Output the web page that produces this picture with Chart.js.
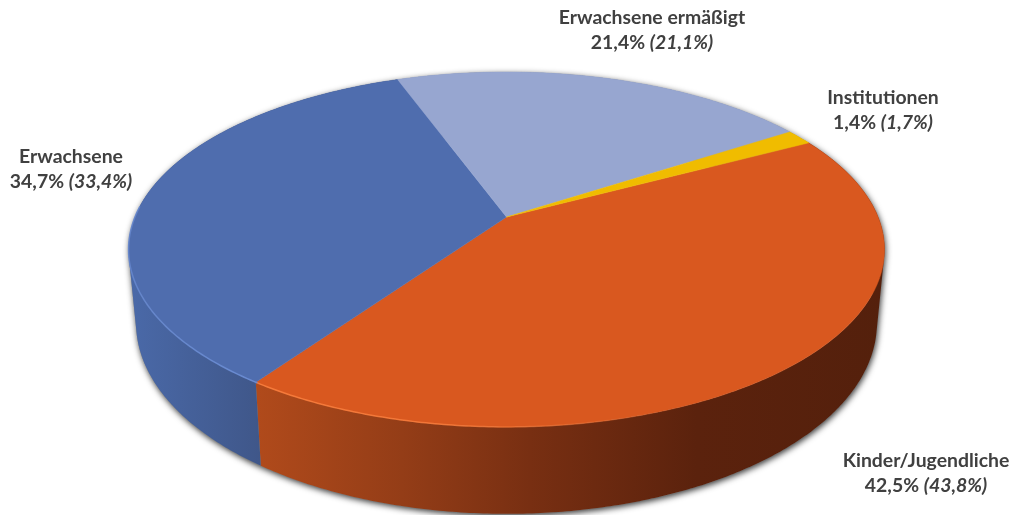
<!DOCTYPE html>
<html>
<head>
<meta charset="utf-8">
<title>Besucher</title>
<script src="https://cdn.jsdelivr.net/npm/chart.js@4"></script>
<style>
  html, body { margin: 0; padding: 0; background: #fff; overflow: hidden; }
  canvas { display: block; }
</style>
</head>
<body>
<canvas id="pieChart" width="1016" height="515"></canvas>
<script>
// Values
const categories = ['Kinder/Jugendliche', 'Erwachsene', 'Erwachsene ermäßigt', 'Institutionen'];
const shares = [42.5, 34.7, 21.4, 1.4];
const priorShares = [43.8, 33.4, 21.1, 1.7];
const topColors = ['#d9581f', '#4f6dae', '#97a6d0', '#f0bc00'];

// Label anchors (centre x, first baseline y)
const labelPos = [[926, 467], [71, 163], [652, 24], [883, 104]];

// Perspective of the disc: circle point (u, v) to screen
const cx = 506.5, persp = -0.183, radiusX = 371.6, scaleY = 131.8, apexY = 217;
const wallDepth = 71, wallNarrow = 0.98;

function top3d(u, v) {
  const w = 1 + persp * v;
  return { x: cx + radiusX * u / w, y: (scaleY * v + apexY) / w };
}
function bottom3d(u, v) {
  const p = top3d(u, v), w = 1 + persp * v;
  return { x: cx + (p.x - cx) * wallNarrow, y: p.y + wallDepth / w };
}
function rim(fn, a0, a1) {
  const pts = [], n = Math.max(2, Math.ceil(Math.abs(a1 - a0) / 0.01));
  for (let i = 0; i <= n; i++) {
    const a = a0 + (a1 - a0) * i / n;
    pts.push(fn(Math.cos(a), Math.sin(a)));
  }
  return pts;
}
function trace(ctx, pts) {
  pts.forEach((p, i) => i ? ctx.lineTo(p.x, p.y) : ctx.moveTo(p.x, p.y));
  ctx.closePath();
}
// wall strip as one path of quads, all wound the same way so they add up
function sweep(ctx, a0, a1) {
  const t = rim(top3d, a0, a1), b = rim(bottom3d, a0, a1);
  for (let i = 0; i < t.length - 1; i++) {
    const q = [t[i], t[i + 1], b[i + 1], b[i]];
    let area = 0;
    q.forEach((p, j) => {
      const r = q[(j + 1) % 4];
      area += p.x * r.y - r.x * p.y;
    });
    trace(ctx, area < 0 ? q.reverse() : q);
  }
}
function wallFill(ctx, i) {
  const g = ctx.createLinearGradient(130, 0, 885, 0);
  if (i === 0) {
    g.addColorStop(0.17, '#b04a1b');
    g.addColorStop(0.36, '#943d17');
    g.addColorStop(0.53, '#782f12');
    g.addColorStop(0.75, '#5b220d');
    g.addColorStop(1, '#54200c');
  } else if (i === 1) {
    g.addColorStop(0, '#4a69a8');
    g.addColorStop(0.18, '#3f5688');
  } else {
    return topColors[i];
  }
  return g;
}

const pie3d = {
  id: 'pie3d',
  beforeDatasetDraw(chart, args) {
    const ctx = chart.ctx;
    const arcs = chart.getDatasetMeta(args.index).data;
    ctx.save();

    // soft shadow under the whole body
    ctx.save();
    ctx.shadowColor = 'rgba(0,0,0,0.8)';
    ctx.shadowBlur = 6;
    ctx.shadowOffsetX = 1;
    ctx.shadowOffsetY = 2;
    ctx.fillStyle = '#888';
    ctx.beginPath();
    sweep(ctx, 0, Math.PI * 2);
    ctx.fill();
    ctx.restore();

    // walls first, the top faces cover the back part
    arcs.forEach((arc, i) => {
      const p = arc.getProps(['startAngle', 'endAngle'], true);
      ctx.beginPath();
      sweep(ctx, p.startAngle, p.endAngle);
      ctx.fillStyle = wallFill(ctx, i);
      ctx.fill();
    });

    arcs.forEach((arc, i) => {
      const p = arc.getProps(['startAngle', 'endAngle'], true);
      ctx.beginPath();
      trace(ctx, [top3d(0, 0)].concat(rim(top3d, p.startAngle, p.endAngle)));
      ctx.fillStyle = topColors[i];
      ctx.strokeStyle = topColors[i];
      ctx.lineWidth = 0.5;
      ctx.fill();
      ctx.stroke();
    });

    // light edge along the front rim, blue part then orange part
    const hi = ctx.createLinearGradient(130, 0, 660, 0);
    hi.addColorStop(0, 'rgba(108,142,214,0.7)');
    hi.addColorStop(0.24, 'rgba(108,142,214,0.9)');
    hi.addColorStop(0.241, 'rgba(250,125,60,0.9)');
    hi.addColorStop(0.6, 'rgba(250,125,60,0.8)');
    hi.addColorStop(1, 'rgba(250,125,60,0)');
    ctx.beginPath();
    rim(top3d, Math.PI * 0.3, Math.PI * 1.02).forEach((q, j) => j ? ctx.lineTo(q.x, q.y) : ctx.moveTo(q.x, q.y));
    ctx.strokeStyle = hi;
    ctx.lineWidth = 1.5;
    ctx.stroke();

    ctx.restore();
    return false;
  },
  afterDraw(chart) {
    const ctx = chart.ctx;
    const num = v => v.toFixed(1).replace('.', ',') + '%';
    ctx.save();
    ctx.fillStyle = '#404040';
    ctx.textBaseline = 'alphabetic';
    categories.forEach((name, i) => {
      const [x, y] = labelPos[i];
      const plain = 'bold 19.4px Lato';
      const slanted = 'italic bold 19.4px Lato';
      ctx.font = plain;
      ctx.textAlign = 'center';
      ctx.fillText(name, x, y);
      const a = num(shares[i]) + ' ';
      const b = '(' + num(priorShares[i]) + ')';
      ctx.textAlign = 'left';
      const wa = ctx.measureText(a).width;
      ctx.font = slanted;
      const wb = ctx.measureText(b).width;
      const left = x - (wa + wb) / 2;
      ctx.font = plain;
      ctx.fillText(a, left, y + 25);
      ctx.font = slanted;
      ctx.fillText(b, left + wa, y + 25);
    });
    ctx.restore();
  }
};

new Chart(document.getElementById('pieChart').getContext('2d'), {
  type: 'pie',
  data: {
    labels: categories,
    datasets: [{ data: shares, backgroundColor: topColors, borderWidth: 0 }]
  },
  options: {
    responsive: false,
    animation: false,
    rotation: 62,
    plugins: { legend: { display: false }, tooltip: { enabled: false } }
  },
  plugins: [pie3d]
});
</script>
</body>
</html>
